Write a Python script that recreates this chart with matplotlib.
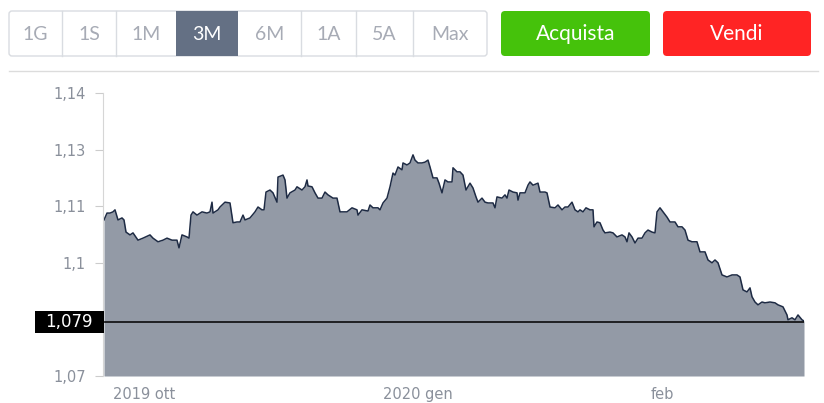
import matplotlib
matplotlib.use("Agg")
import matplotlib.pyplot as plt
from matplotlib.patches import FancyBboxPatch, Rectangle
from matplotlib.transforms import blended_transform_factory

# time steps along the 3 month window (0 = start, 700 = latest quote)
t = [0, 3, 6, 9, 11, 14, 18, 20, 22, 26, 29, 34, 39, 46, 49, 54, 59, 63, 68, 73, 75, 78, 83, 85, 87, 89, 93, 98, 103, 106, 108, 109, 114,
     116, 121, 126, 129, 133, 136, 139, 141, 146, 151, 154, 158, 160, 162, 166, 169, 173, 174, 179, 181, 183, 186, 191, 193, 198, 201, 203, 204, 208, 211, 214, 218, 221, 224, 229, 233, 236,
     243, 248, 253, 254, 258, 264, 266, 269, 274, 276, 279, 283, 286, 289, 291, 294, 298, 299, 303, 306, 309, 311, 314, 318, 321, 324, 326, 329, 333, 335, 338, 341, 344, 348, 349, 353, 356,
     359, 362, 366, 369, 372, 374, 378, 381, 384, 389, 391, 393, 398, 401, 403, 405, 409, 413, 414, 416, 421, 424, 426, 429, 434, 436, 441, 443, 446, 451, 454, 458, 461, 464, 468, 471, 474,
     476, 479, 482, 486, 489, 490, 493, 496, 499, 501, 506, 509, 513, 518, 521, 523, 525, 528, 531, 534, 538, 541, 544, 548, 551, 553, 556, 559, 563, 566, 571, 574, 578, 581, 584, 588, 593,
     596, 601, 604, 608, 611, 614, 618, 623, 628, 633, 636, 639, 643, 646, 648, 651, 654, 658, 661, 666, 671, 674, 679, 683, 684, 688, 691, 694, 698, 700]

price = [1.1086, 1.1103, 1.1103, 1.1106, 1.1111, 1.1086, 1.1091, 1.1086, 1.1056, 1.1049, 1.1054, 1.1036, 1.1041, 1.1049, 1.1041, 1.1032, 1.1036, 1.1041, 1.1036, 1.1036, 1.1017, 1.1049, 1.1044, 1.1041, 1.1098, 1.1106, 1.1098, 1.1106, 1.1103, 1.1106, 1.1130, 1.1103, 1.1111,
         1.1118, 1.1130, 1.1128, 1.1079, 1.1081, 1.1081, 1.1098, 1.1086, 1.1091, 1.1106, 1.1118, 1.1111, 1.1111, 1.1155, 1.1160, 1.1153, 1.1130, 1.1192, 1.1197, 1.1185, 1.1140, 1.1153, 1.1160, 1.1168, 1.1160, 1.1168, 1.1185, 1.1170, 1.1168, 1.1153, 1.1140, 1.1140, 1.1155, 1.1148, 1.1140, 1.1140, 1.1106,
         1.1106, 1.1116, 1.1111, 1.1098, 1.1111, 1.1108, 1.1123, 1.1116, 1.1116, 1.1111, 1.1128, 1.1140, 1.1168, 1.1202, 1.1197, 1.1217, 1.1210, 1.1227, 1.1222, 1.1227, 1.1247, 1.1234, 1.1227, 1.1227, 1.1229, 1.1234, 1.1217, 1.1190, 1.1190, 1.1177, 1.1153, 1.1185, 1.1180, 1.1180, 1.1215, 1.1205, 1.1205,
         1.1197, 1.1160, 1.1177, 1.1165, 1.1143, 1.1130, 1.1140, 1.1130, 1.1128, 1.1128, 1.1116, 1.1143, 1.1140, 1.1148, 1.1140, 1.1160, 1.1155, 1.1153, 1.1135, 1.1153, 1.1153, 1.1172, 1.1180, 1.1172, 1.1177, 1.1155, 1.1155, 1.1153, 1.1118, 1.1116, 1.1123, 1.1111, 1.1118, 1.1118, 1.1130, 1.1111, 1.1106,
         1.1111, 1.1106, 1.1116, 1.1111, 1.1111, 1.1069, 1.1081, 1.1079, 1.1061, 1.1054, 1.1056, 1.1054, 1.1044, 1.1049, 1.1044, 1.1032, 1.1054, 1.1044, 1.1029, 1.1041, 1.1041, 1.1054, 1.1061, 1.1056, 1.1054, 1.1106, 1.1116, 1.1106, 1.1093, 1.1081, 1.1081, 1.1069, 1.1069, 1.1061, 1.1036, 1.1032, 1.1032,
         1.1007, 1.1007, 1.0987, 1.0980, 1.0987, 1.0980, 1.0950, 1.0945, 1.0950, 1.0950, 1.0945, 1.0913, 1.0908, 1.0918, 1.0896, 1.0883, 1.0876, 1.0883, 1.0881, 1.0883, 1.0881, 1.0876, 1.0871, 1.0851, 1.0839, 1.0844, 1.0839, 1.0851, 1.0839, 1.0836]

y_ticks = [1.07, 1.084, 1.098, 1.112, 1.126, 1.14]
x_tick_pos = [40, 314, 558]
x_tick_labels = ["2019 ott", "2020 gen", "feb"]
last_line = 1.0834
last_label = "1,079"

periods = ["1G", "1S", "1M", "3M", "6M", "1A", "5A", "Max"]
period_edges = [9, 62, 116, 176, 238, 301, 356, 413, 487]
active = "3M"

fig = plt.figure(figsize=(8.24, 4.03), dpi=100)

# ---- UI overlay in pixel coordinates ----
ui = fig.add_axes([0, 0, 1, 1])
ui.set_xlim(0, 824)
ui.set_ylim(403, 0)
ui.axis("off")

ui.add_patch(FancyBboxPatch((9, 11), 478, 45, boxstyle="round,pad=0,rounding_size=3",
                            fc="white", ec="#d9dce1", lw=1))
for i, p in enumerate(periods):
    x0, x1 = period_edges[i], period_edges[i + 1]
    if p == active:
        ui.add_patch(Rectangle((x0, 11), x1 - x0, 45, fc="#647084", ec="none"))
    elif i > 0 and periods[i - 1] != active:
        ui.plot([x0, x0], [11, 56], color="#d9dce1", lw=1)
    ui.text((x0 + x1) / 2, 34, p, ha="center", va="center", fontsize=14,
            family="Lato", color="white" if p == active else "#a7abb5")

ui.add_patch(FancyBboxPatch((501, 11), 149, 45, boxstyle="round,pad=0,rounding_size=4",
                            fc="#45c20b", ec="none"))
ui.text(575.5, 34, "Acquista", ha="center", va="center", fontsize=15, family="Lato", color="white")
ui.add_patch(FancyBboxPatch((663, 11), 148, 45, boxstyle="round,pad=0,rounding_size=4",
                            fc="#ff2424", ec="none"))
ui.text(737, 34, "Vendi", ha="center", va="center", fontsize=15, family="Lato", color="white")
ui.plot([9, 818], [71, 71], color="#dcdcdc", lw=1)

# ---- price chart ----
ax = fig.add_axes([104 / 824, 27 / 403, 700 / 824, 283 / 403])
ax.fill_between(t, price, 1.07, color="#939aa6", lw=0)
ax.plot(t, price, color="#1e2b44", lw=1.1)
ax.axhline(last_line, color="black", lw=1.1)
ax.set_xlim(0, 700)
ax.set_ylim(1.07, 1.14)

ax.set_yticks(y_ticks)
ax.set_yticklabels([("%.2f" % v).rstrip("0").replace(".", ",") if v != 1.084 else "" for v in y_ticks])
ax.set_xticks(x_tick_pos)
ax.set_xticklabels(x_tick_labels)
ax.tick_params(axis="y", length=6, color="#cccccc", labelcolor="#8a909b", labelsize=10.5, pad=6)
ax.tick_params(axis="x", length=0, labelcolor="#8a909b", labelsize=10.5, pad=8)
for s in ["top", "right", "bottom"]:
    ax.spines[s].set_visible(False)
ax.spines["left"].set_color("#d6d6d6")
ax.spines["left"].set_position(("outward", 1))

trans = blended_transform_factory(ax.transAxes, ax.transData)
ax.add_patch(Rectangle((-69 / 700, last_line - 0.0027), 69 / 700, 0.0054, transform=trans,
                       fc="black", ec="none", clip_on=False, zorder=5))
ax.text(-35 / 700, last_line, last_label, transform=trans, ha="center", va="center",
        color="white", fontsize=12, clip_on=False, zorder=6)

fig.savefig("out.png", dpi=100)
